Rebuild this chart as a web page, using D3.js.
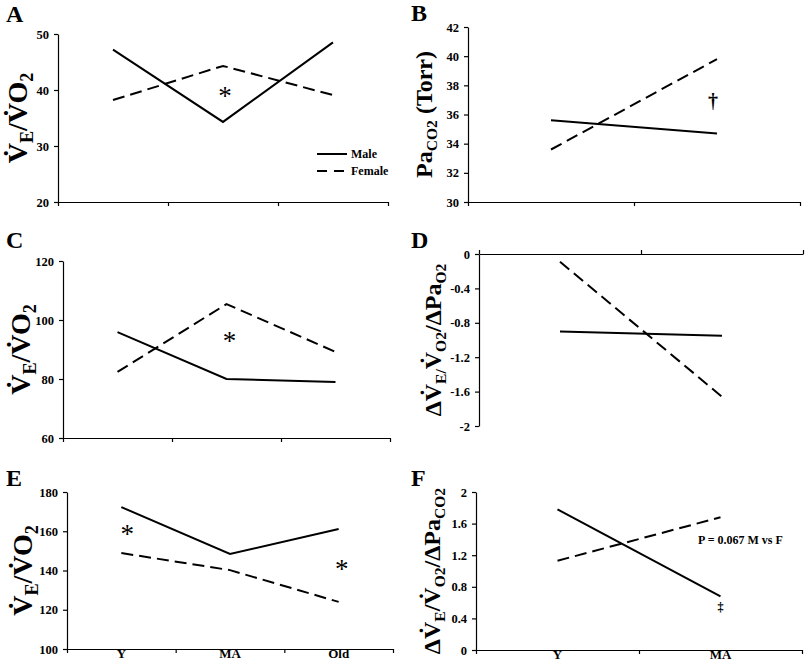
<!DOCTYPE html>
<html>
<head>
<meta charset="utf-8">
<script src="https://cdn.jsdelivr.net/npm/d3@7"></script>
<style>
  html, body { margin: 0; padding: 0; background: #fff; }
  svg { display: block; }
  text { font-family: "Liberation Serif", "Times New Roman", serif; font-weight: bold; fill: #000; }
</style>
</head>
<body>
<svg id="chart" width="807" height="668"></svg>
<script>
// ---------------- data ----------------
const groups3 = ["Y", "MA", "Old"];
const groups2 = ["Y", "MA"];

const aMale = [47.2, 34.3, 48.5];
const aFemale = [38.2, 44.3, 39.1];
const aTicks = [20, 30, 40, 50];

const bMale = [35.6, 34.7];
const bFemale = [33.6, 39.8];
const bTicks = [30, 32, 34, 36, 38, 40, 42];

const cMale = [95.9, 80.0, 79.0];
const cFemale = [82.4, 105.4, 89.2];
const cTicks = [60, 80, 100, 120];

const dMale = [-0.90, -0.95];
const dFemale = [-0.09, -1.66];
const dTicks = [0, -0.4, -0.8, -1.2, -1.6, -2];

const eMale = [172.3, 148.4, 161.1];
const eFemale = [148.9, 140.2, 124.0];
const eTicks = [100, 120, 140, 160, 180];

const fMale = [1.78, 0.68];
const fFemale = [1.13, 1.68];
const fTicks = [0, 0.4, 0.8, 1.2, 1.6, 2];

const seriesNames = ["Male", "Female"];

// ---------------- drawing ----------------
const svg = d3.select("#chart");
const DASH = "12,6";

// label parts: [text, kind] kind: "n" normal, "s" subscript
function addLabel(g, parts, size) {
  const t = g.append("text").attr("font-size", size);
  let state = "n";
  parts.forEach(([txt, kind]) => {
    const ts = t.append("tspan").text(txt);
    if (kind === "s") {
      ts.attr("font-size", size * 0.65);
      if (state !== "s") ts.attr("dy", size * 0.22);
    } else {
      if (state === "s") ts.attr("dy", -size * 0.22);
    }
    state = kind;
  });
  return t;
}

function panel(cfg) {
  const g = svg.append("g");
  const x = d3.scaleBand().domain(cfg.cats).range([cfg.x0, cfg.x1]);
  const xb = d3.scaleLinear().domain([0, cfg.cats.length]).range([cfg.x0, cfg.x1]);
  const y = d3.scaleLinear().domain(cfg.domain).range([cfg.yBottom, cfg.yTop]);

  // y axis
  const ya = g.append("g").attr("transform", `translate(${cfg.x0},0)`)
    .call(d3.axisLeft(y).tickValues(cfg.ticks).tickSize(4).tickSizeOuter(0).tickPadding(5)
      .tickFormat(d => String(d)));
  ya.selectAll("text").attr("font-size", 12.5).style("font-family", "Liberation Serif").style("font-weight", "bold");
  ya.selectAll("path,line").attr("stroke", "#000").attr("stroke-width", 1.2);

  // x axis (line + ticks at band boundaries)
  const yAt = y(cfg.xAt);
  const xAxisGen = cfg.ticksUp ? d3.axisTop(xb) : d3.axisBottom(xb);
  const xa = g.append("g").attr("transform", `translate(0,${yAt})`)
    .call(xAxisGen.tickValues(d3.range(cfg.cats.length + 1)).tickSize(4).tickSizeOuter(0).tickFormat(""));
  xa.selectAll("path,line").attr("stroke", "#000").attr("stroke-width", 1.2);

  if (cfg.showX) {
    const xl = g.append("g").attr("transform", `translate(0,${yAt})`)
      .call(d3.axisBottom(x).tickSize(0).tickPadding(0));
    xl.select("path").remove();
    xl.selectAll("text").attr("font-size", 13).style("font-family", "Liberation Serif").style("font-weight", "bold");
  }

  const line = d3.line()
    .x((d, i) => x(cfg.cats[i]) + x.bandwidth() / 2)
    .y(d => y(d));

  g.append("path").datum(cfg.male).attr("d", line)
    .attr("fill", "none").attr("stroke", "#000").attr("stroke-width", 2);
  g.append("path").datum(cfg.female).attr("d", line)
    .attr("fill", "none").attr("stroke", "#000").attr("stroke-width", 2).attr("stroke-dasharray", DASH);

  // panel letter
  g.append("text").attr("x", cfg.letterX).attr("y", cfg.letterY).attr("font-size", 24).text(cfg.letter);

  // y title
  const cy = (cfg.yTop + cfg.yBottom) / 2;
  const lg = g.append("g").attr("transform", `translate(${cfg.titleX},${cy}) rotate(-90)`);
  addLabel(lg, cfg.title, cfg.titleSize).attr("text-anchor", "middle");

  // annotations
  (cfg.notes || []).forEach(n => {
    g.append("text").attr("x", x(cfg.cats[n.cat]) + x.bandwidth() / 2 + n.dx)
      .attr("y", y(n.v)).attr("font-size", n.size).attr("text-anchor", n.anchor || "middle")
      .attr("dominant-baseline", "central")
      .style("font-weight", n.weight || "bold")
      .text(n.text);
  });
  return { g, x, y };
}

const VE_VO2 = [["V\u0307", "n"], ["E", "s"], ["/V\u0307O", "n"], ["2", "s"]];

// A
const A = panel({
  letter: "A", letterX: 6, letterY: 22,
  cats: groups3, x0: 58, x1: 388, yTop: 34, yBottom: 202,
  domain: [20, 50], ticks: aTicks, xAt: 20,
  male: aMale, female: aFemale,
  title: VE_VO2, titleX: 27, titleSize: 28,
  notes: [{ cat: 1, dx: 2, v: 38.9, text: "*", size: 27, weight: "normal" }]
});
// legend
const legend = A.g.append("g");
seriesNames.forEach((name, i) => {
  const yy = 154 + i * 17;
  legend.append("line").attr("x1", 317).attr("x2", 347).attr("y1", yy).attr("y2", yy)
    .attr("stroke", "#000").attr("stroke-width", 2).attr("stroke-dasharray", i === 1 ? "10,7" : null);
  legend.append("text").attr("x", 351).attr("y", yy).attr("dominant-baseline", "central")
    .attr("font-size", 12).text(name);
});

// B
panel({
  letter: "B", letterX: 411, letterY: 21,
  cats: groups2, x0: 468, x1: 800, yTop: 27, yBottom: 202,
  domain: [30, 42], ticks: bTicks, xAt: 30,
  male: bMale, female: bFemale,
  title: [["Pa", "n"], ["CO2", "s"], [" (Torr)", "n"]], titleX: 432, titleSize: 24,
  notes: [{ cat: 1, dx: -4, v: 36.9, text: "\u2020", size: 20 }]
});

// C
panel({
  letter: "C", letterX: 6, letterY: 248,
  cats: groups3, x0: 63, x1: 390, yTop: 261, yBottom: 438,
  domain: [60, 120], ticks: cTicks, xAt: 60,
  male: cMale, female: cFemale,
  title: VE_VO2, titleX: 30, titleSize: 28,
  notes: [{ cat: 1, dx: 3, v: 92.8, text: "*", size: 27, weight: "normal" }]
});

// D
panel({
  letter: "D", letterX: 411, letterY: 248,
  cats: groups2, x0: 479, x1: 803, yTop: 254, yBottom: 426,
  domain: [-2, 0], ticks: dTicks, xAt: 0, ticksUp: true,
  male: dMale, female: dFemale,
  title: [["\u0394V\u0307", "n"], ["E/", "s"], ["V\u0307", "n"], ["O2", "s"], ["/\u0394Pa", "n"], ["O2", "s"]],
  titleX: 441, titleSize: 24
});

// E
panel({
  letter: "E", letterX: 6, letterY: 486,
  cats: groups3, x0: 67, x1: 393, yTop: 492, yBottom: 649,
  domain: [100, 180], ticks: eTicks, xAt: 100, showX: true,
  male: eMale, female: eFemale,
  title: VE_VO2, titleX: 32, titleSize: 28,
  notes: [
    { cat: 0, dx: 6, v: 158.5, text: "*", size: 27, weight: "normal" },
    { cat: 2, dx: 3, v: 140.8, text: "*", size: 27, weight: "normal" }
  ]
});

// F
const F = panel({
  letter: "F", letterX: 411, letterY: 486,
  cats: groups2, x0: 476, x1: 802, yTop: 492, yBottom: 650,
  domain: [0, 2], ticks: fTicks, xAt: 0, showX: true,
  male: fMale, female: fFemale,
  title: [["\u0394V\u0307", "n"], ["E", "s"], ["/V\u0307", "n"], ["O2", "s"], ["/\u0394Pa", "n"], ["CO2", "s"]],
  titleX: 440, titleSize: 24,
  notes: [{ cat: 1, dx: 0, v: 0.54, text: "\u2021", size: 12 }]
});
F.g.append("text").attr("x", 698).attr("y", 540).attr("dominant-baseline", "central")
  .attr("font-size", 12).text("P = 0.067 M vs F");
</script>
</body>
</html>
